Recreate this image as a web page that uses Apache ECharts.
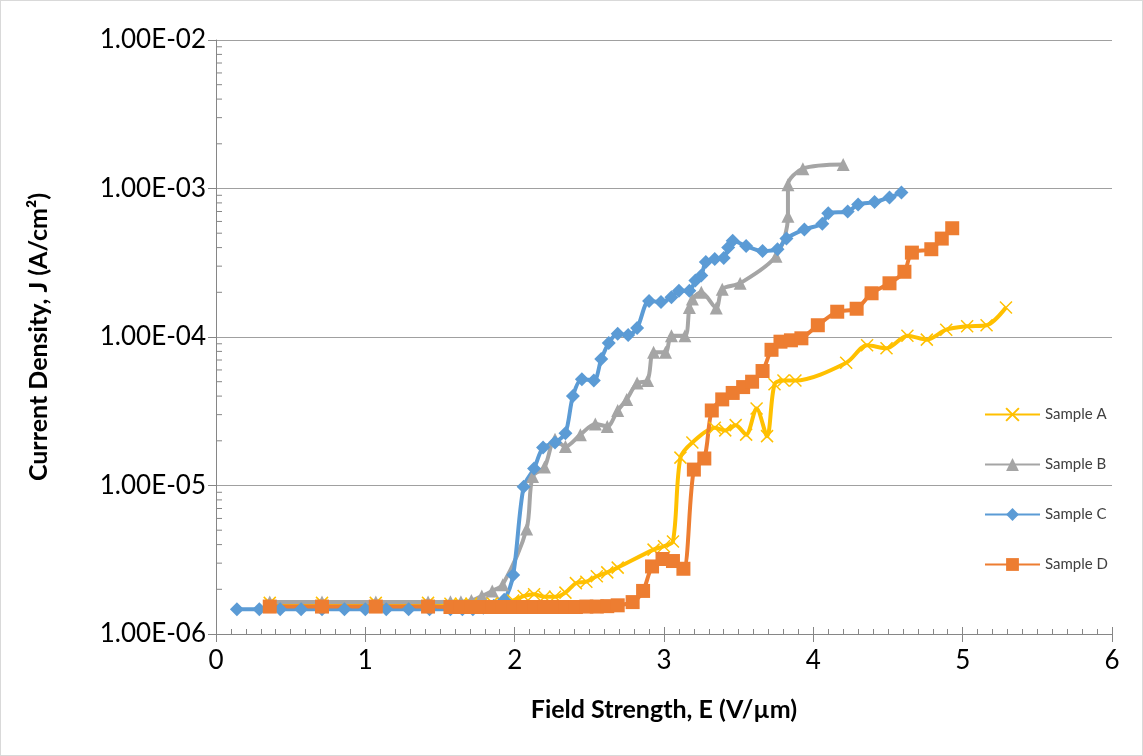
<!DOCTYPE html>
<html>
<head>
<meta charset="utf-8">
<script src="https://cdn.jsdelivr.net/npm/echarts@6/dist/echarts.min.js"></script>
<style>
  html, body { margin: 0; padding: 0; background: #fff; }
  #chart { width: 1143px; height: 756px; box-sizing: border-box; border: 1px solid #d9d9d9; }
</style>
</head>
<body>
<div id="chart"></div>
<script>
// ---- Data (x: field strength V/µm, y: current density A/cm²) ----
const sampleA = [
  [0.36,1.62e-6],[0.71,1.62e-6],[1.07,1.62e-6],[1.42,1.62e-6],[1.57,1.6e-6],[1.64,1.6e-6],
  [1.71,1.6e-6],[1.78,1.6e-6],[1.85,1.62e-6],[1.92,1.62e-6],[1.99,1.68e-6],[2.06,1.8e-6],
  [2.13,1.85e-6],[2.20,1.78e-6],[2.27,1.78e-6],[2.34,1.9e-6],[2.41,2.2e-6],[2.48,2.25e-6],
  [2.55,2.45e-6],[2.62,2.6e-6],[2.69,2.8e-6],[2.93,3.7e-6],[3.00,3.9e-6],[3.06,4.2e-6],
  [3.11,1.54e-5],[3.19,1.95e-5],[3.34,2.45e-5],[3.41,2.35e-5],[3.48,2.55e-5],[3.55,2.2e-5],
  [3.62,3.3e-5],[3.69,2.15e-5],[3.74,4.8e-5],[3.80,5.1e-5],[3.88,5.1e-5],[4.22,6.7e-5],
  [4.36,8.8e-5],[4.49,8.4e-5],[4.63,1.02e-4],[4.76,9.6e-5],[4.89,1.12e-4],[5.03,1.18e-4],
  [5.16,1.2e-4],[5.29,1.58e-4]
];
const sampleB = [
  [0.36,1.64e-6],[0.71,1.64e-6],[1.07,1.64e-6],[1.42,1.64e-6],[1.57,1.65e-6],[1.64,1.65e-6],
  [1.71,1.68e-6],[1.78,1.8e-6],[1.85,1.95e-6],[1.92,2.15e-6],[2.08,5.1e-6],[2.12,1.15e-5],
  [2.20,1.33e-5],[2.27,2.05e-5],[2.34,1.83e-5],[2.44,2.2e-5],[2.54,2.6e-5],[2.62,2.5e-5],
  [2.69,3.2e-5],[2.75,3.8e-5],[2.82,4.9e-5],[2.89,5.1e-5],[2.93,7.9e-5],[3.01,7.9e-5],
  [3.05,1.02e-4],[3.14,1.02e-4],[3.17,1.58e-4],[3.19,1.8e-4],[3.25,2.0e-4],[3.35,1.57e-4],
  [3.39,2.1e-4],[3.51,2.3e-4],[3.75,3.5e-4],[3.83,6.5e-4],[3.83,1.06e-3],[3.93,1.36e-3],
  [4.20,1.45e-3]
];
const sampleC = [
  [0.14,1.47e-6],[0.29,1.47e-6],[0.43,1.47e-6],[0.57,1.47e-6],[0.71,1.47e-6],[0.86,1.47e-6],
  [1.00,1.47e-6],[1.14,1.47e-6],[1.29,1.47e-6],[1.43,1.47e-6],[1.57,1.47e-6],[1.65,1.47e-6],
  [1.72,1.47e-6],[1.79,1.5e-6],[1.86,1.55e-6],[1.93,1.7e-6],[1.99,2.5e-6],[2.06,9.8e-6],
  [2.13,1.3e-5],[2.19,1.8e-5],[2.27,1.95e-5],[2.34,2.25e-5],[2.39,4.0e-5],[2.45,5.2e-5],
  [2.53,5.1e-5],[2.58,7.1e-5],[2.63,9.1e-5],[2.69,1.05e-4],[2.76,1.03e-4],[2.82,1.15e-4],
  [2.90,1.75e-4],[2.98,1.72e-4],[3.05,1.85e-4],[3.10,2.05e-4],[3.17,2.05e-4],[3.21,2.4e-4],
  [3.25,2.6e-4],[3.28,3.2e-4],[3.34,3.35e-4],[3.40,3.4e-4],[3.43,4.0e-4],[3.46,4.45e-4],
  [3.55,4.1e-4],[3.66,3.8e-4],[3.76,3.9e-4],[3.82,4.6e-4],[3.94,5.3e-4],[4.06,5.8e-4],
  [4.10,6.8e-4],[4.23,7.0e-4],[4.30,7.8e-4],[4.41,8.1e-4],[4.51,8.7e-4],[4.59,9.4e-4]
];
const sampleD = [
  [0.36,1.53e-6],[0.71,1.53e-6],[1.07,1.53e-6],[1.42,1.53e-6],[1.57,1.52e-6],[1.64,1.52e-6],
  [1.71,1.52e-6],[1.78,1.52e-6],[1.85,1.52e-6],[1.92,1.52e-6],[1.99,1.52e-6],[2.06,1.52e-6],
  [2.13,1.52e-6],[2.20,1.52e-6],[2.27,1.52e-6],[2.34,1.52e-6],[2.41,1.52e-6],[2.48,1.53e-6],
  [2.55,1.53e-6],[2.62,1.54e-6],[2.69,1.56e-6],[2.79,1.64e-6],[2.86,1.95e-6],[2.92,2.85e-6],
  [2.99,3.2e-6],[3.06,3.1e-6],[3.13,2.75e-6],[3.20,1.28e-5],[3.27,1.52e-5],[3.32,3.2e-5],
  [3.39,3.8e-5],[3.46,4.2e-5],[3.53,4.6e-5],[3.59,5.0e-5],[3.66,5.9e-5],[3.72,8.2e-5],
  [3.78,9.3e-5],[3.85,9.5e-5],[3.92,9.8e-5],[4.03,1.2e-4],[4.16,1.48e-4],[4.29,1.55e-4],
  [4.39,1.97e-4],[4.51,2.3e-4],[4.61,2.75e-4],[4.66,3.7e-4],[4.79,3.9e-4],[4.86,4.6e-4],
  [4.93,5.4e-4]
];
const seriesNames = ['Sample A', 'Sample B', 'Sample C', 'Sample D'];
const xTickLabels = ['0', '1', '2', '3', '4', '5', '6'];
const yTickLabels = ['1.00E-06', '1.00E-05', '1.00E-04', '1.00E-03', '1.00E-02'];
const yMin = 1e-6, yMax = 1e-2;

// minor tick positions on the log axis (2..9 within each decade)
const yMinorTicks = [];
for (let d = 0; d < 4; d++) {
  for (let k = 2; k <= 9; k++) yMinorTicks.push([0, k * Math.pow(10, -6 + d)]);
}

const FONT = 'Lato, "Open Sans", "Liberation Sans", sans-serif';
const colors = ['#FFC000', '#A5A5A5', '#5B9BD5', '#ED7D31'];

const chart = echarts.init(document.getElementById('chart'), null, { renderer: 'canvas' });

function lineSeries(name, data, color, symbol, size, extraItem) {
  return {
    name, type: 'line', data,
    xAxisIndex: 0, yAxisIndex: 0,
    smooth: 0.3,
    symbol, symbolSize: size,
    showSymbol: true,
    lineStyle: { color, width: 4 },
    itemStyle: Object.assign({ color }, extraItem || {}),
    emphasis: { disabled: true },
    z: 3
  };
}

const option = {
  animation: false,
  textStyle: { fontFamily: FONT },
  grid: { left: 215, right: 30, top: 39, bottom: 121, containLabel: false },
  legend: {
    data: seriesNames,
    orient: 'vertical',
    left: 978, top: 401,
    itemWidth: 55, itemHeight: 16,
    itemGap: 35,
    textStyle: { fontFamily: FONT, fontSize: 15, color: '#404040' }
  },
  xAxis: [
    {
      type: 'value', min: 0, max: 6, interval: 1,
      position: 'bottom',
      axisLine: { show: true, lineStyle: { color: '#868686', width: 1 } },
      axisTick: { show: true, inside: false, length: 8, lineStyle: { color: '#868686' } },
      axisLabel: {
        margin: 14, fontSize: 26, color: '#000', fontFamily: FONT,
        formatter: v => xTickLabels[Math.round(v)]
      },
      splitLine: { show: false },
      name: 'Field Strength, E (V/µm)',
      nameLocation: 'middle', nameGap: 63,
      nameTextStyle: { fontSize: 25, fontWeight: 'bold', color: '#000', fontFamily: FONT }
    },
    {
      type: 'value', min: 0, max: 6, interval: 1,
      position: 'bottom', offset: 0,
      axisLine: { show: false },
      axisTick: { show: true, inside: true, length: 7, lineStyle: { color: '#868686' } },
      minorTick: { show: true, splitNumber: 10, length: 5, lineStyle: { color: '#868686' } },
      axisLabel: { show: false },
      splitLine: { show: false }
    }
  ],
  yAxis: {
    type: 'log', logBase: 10, min: yMin, max: yMax,
    axisLine: { show: true, lineStyle: { color: '#868686', width: 1 } },
    axisTick: { show: true, inside: false, length: 8, lineStyle: { color: '#868686' } },
    axisLabel: {
      margin: 10, fontSize: 26, color: '#000', fontFamily: FONT,
      formatter: v => yTickLabels[Math.round(Math.log10(v) + 6)]
    },
    splitLine: { show: true, lineStyle: { color: '#a0a0a0', width: 1 } },
    name: 'Current Density, J (A/cm²)',
    nameLocation: 'middle', nameGap: 165,
    nameTextStyle: { fontSize: 25, fontWeight: 'bold', color: '#000', fontFamily: FONT }
  },
  series: [
    lineSeries('Sample A', sampleA, colors[0], 'path://M0,0L10,10M10,0L0,10', 12,
      { borderColor: colors[0], borderWidth: 1.5 }),
    lineSeries('Sample B', sampleB, colors[1], 'triangle', 13),
    lineSeries('Sample C', sampleC, colors[2], 'diamond', 14),
    lineSeries('Sample D', sampleD, colors[3], 'rect', 14),
    {
      name: 'yMinor', type: 'custom', silent: true, data: yMinorTicks, z: 1,
      xAxisIndex: 0, yAxisIndex: 0,
      renderItem: function (params, api) {
        const p = api.coord([api.value(0), api.value(1)]);
        return {
          type: 'line',
          shape: { x1: p[0], y1: p[1], x2: p[0] + 6, y2: p[1] },
          style: { stroke: '#868686', lineWidth: 1 }
        };
      }
    }
  ]
};
chart.setOption(option);
</script>
</body>
</html>
